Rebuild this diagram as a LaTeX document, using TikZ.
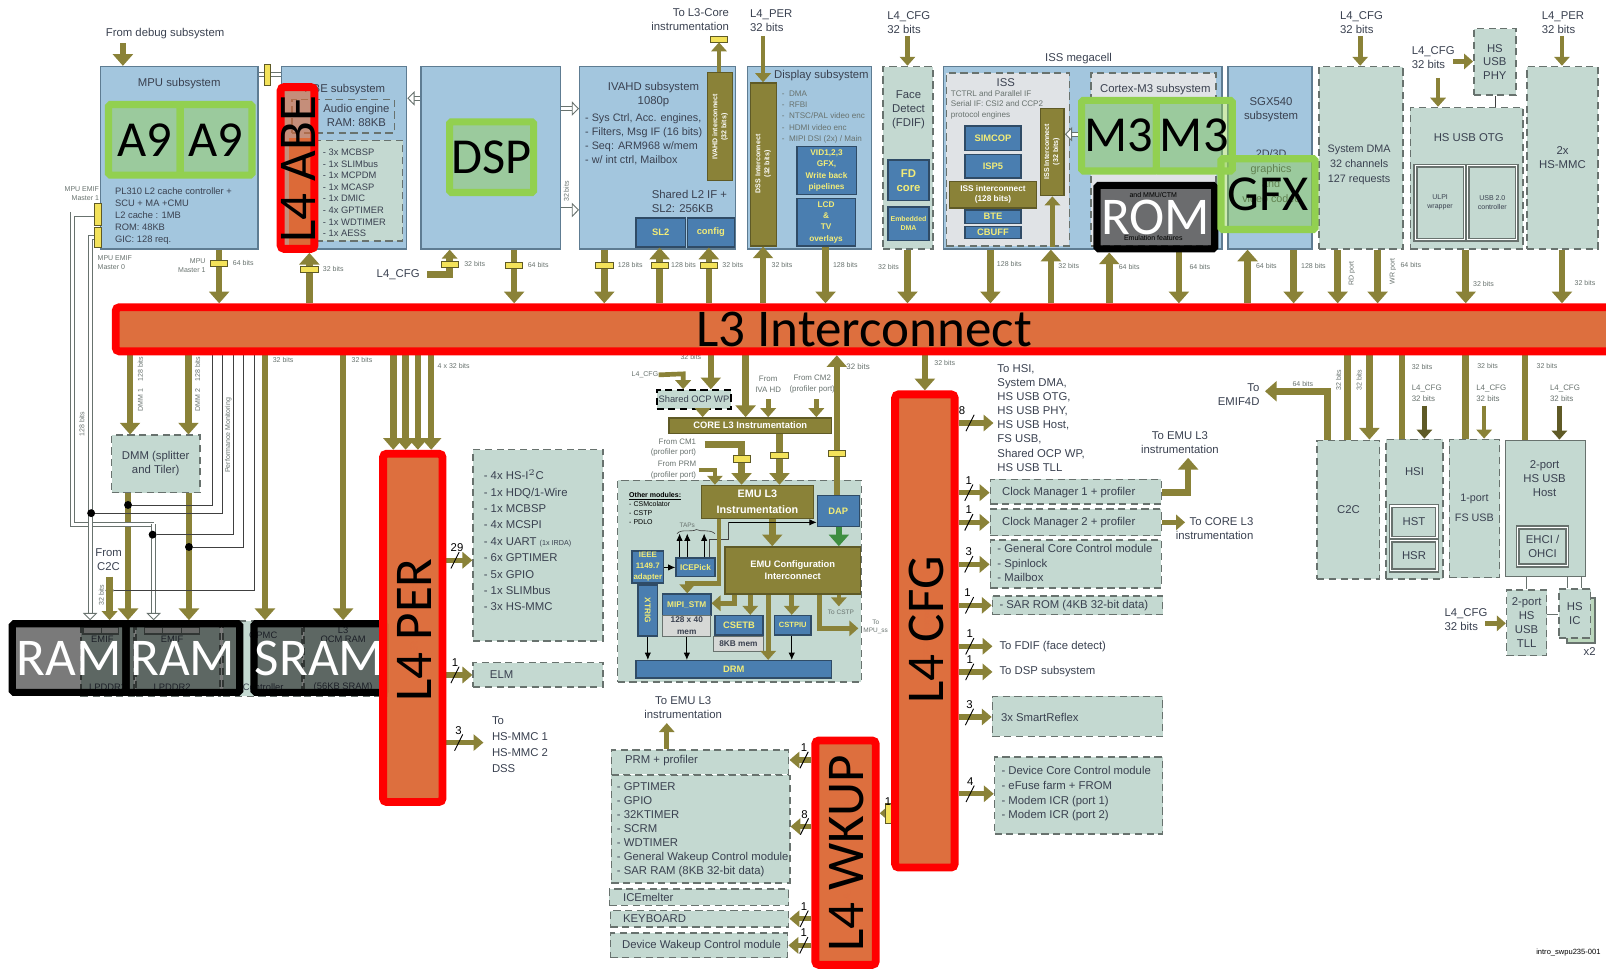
\documentclass[tikz,border=0pt]{standalone}
\usepackage{fontspec}
\setmainfont{Liberation Sans}
\newfontfamily\bigfont{Carlito}
\usetikzlibrary{arrows.meta,calc}
\pgfdeclarelayer{front}
\pgfsetlayers{main,front}
\definecolor{subblue}{HTML}{A3C6DE}
\definecolor{subedge}{HTML}{5E7C92}
\definecolor{mintfill}{HTML}{C4D9D1}
\definecolor{dashgray}{HTML}{68726E}
\definecolor{ipblue}{HTML}{4A7EB0}
\definecolor{ipedge}{HTML}{2F4B66}
\definecolor{ipyellow}{HTML}{F2EC78}
\definecolor{busolive}{HTML}{8A8238}
\definecolor{oliveedge}{HTML}{5F5A26}
\definecolor{markyellow}{HTML}{F3E25A}
\definecolor{textdark}{HTML}{3A4150}
\definecolor{barorange}{HTML}{DC6A38}
\definecolor{cpugreen}{HTML}{92D050}
\definecolor{linkgreen}{HTML}{3E8E41}
\definecolor{memgray}{HTML}{D6D8D6}
\definecolor{issgray}{HTML}{E0E3E6}
\newcommand{\lblfont}{\fontsize{6.3}{7.7}\selectfont}
\newcommand{\smlfont}{\fontsize{5.2}{6.6}\selectfont}
\newcommand{\tnyfont}{\fontsize{3.9}{5}\selectfont}
\tikzset{
  >=Latex,
  subsys/.style={rectangle, draw=subedge, line width=0.8pt, fill=subblue, inner sep=0pt, align=center, font=\lblfont, text=textdark},
  dashbox/.style={rectangle, draw=dashgray, dash pattern=on 4pt off 2.5pt, line width=0.9pt, fill=mintfill, inner sep=0pt, align=center, font=\lblfont, text=textdark},
  solidbox/.style={dashbox, solid},
  issbox/.style={dashbox, fill=issgray},
  ipblock/.style={rectangle, draw=ipedge, line width=0.8pt, fill=ipblue, inner sep=0pt, align=center, font=\smlfont\bfseries, text=ipyellow},
  oliveblock/.style={rectangle, draw=oliveedge, line width=0.8pt, fill=busolive, inner sep=0pt, align=center, font=\smlfont\bfseries, text=white},
  graybox/.style={rectangle, draw=dashgray, line width=0.6pt, fill=memgray, inner sep=0pt, align=center, font=\smlfont, text=textdark},
  lbl/.style={font=\lblfont, text=textdark, inner sep=0pt, align=left},
  sml/.style={font=\smlfont, text=textdark, inner sep=0pt, align=left},
  bits/.style={font=\tnyfont, text=dashgray, inner sep=0pt, align=left},
  count/.style={font=\lblfont, text=black, inner sep=0pt},
  faint/.style={font=\smlfont\bfseries, text=white, inner sep=0pt, rotate=90},
  bus/.style={line width=3.6pt, draw=busolive, -{Triangle[width=11pt,length=6.5pt]}},
  busline/.style={line width=3.6pt, draw=busolive},
  thinbus/.style={line width=2.6pt, draw=busolive, -{Triangle[width=8.5pt,length=5pt]}},
  tagbus/.style={line width=3pt, draw=busolive, -{Triangle[width=9pt,length=5.5pt]}},
  greenbus/.style={line width=3.6pt, draw=linkgreen, -{Triangle[width=11pt,length=6.5pt]}},
  pipe/.style={line width=0.5pt, draw=dashgray, double=white, double distance=1.8pt},
  pipearrow/.style={pipe, -{Triangle[width=8pt,length=4pt,fill=white]}},
  wire/.style={line width=0.35pt, draw=black!75},
  wirearrow/.style={line width=0.45pt, draw=black, -{Latex[length=4pt,width=3.5pt]}},
  tick/.style={line width=0.5pt, draw=black},
  dotmark/.style={circle, fill=black, inner sep=0pt, minimum size=4.4pt},
  ymark/.style={rectangle, draw=oliveedge, line width=0.4pt, fill=markyellow, inner sep=0pt, minimum width=9.6pt, minimum height=3.4pt},
  vmark/.style={ymark, minimum width=3.6pt, minimum height=10pt},
  bighl/.style={rectangle, rounded corners=2pt, draw=red, line width=4.4pt, fill=barorange, fill opacity=0.97, text opacity=1, inner sep=0pt, font=\bigfont\fontsize{29.5}{30}\selectfont, text=black},
  cpu/.style={rectangle, rounded corners=1pt, draw=cpugreen, line width=4pt, fill=cpugreen, fill opacity=0.45, text opacity=1, draw opacity=1, inner sep=0pt, font=\bigfont\fontsize{28}{30}\selectfont, text=black},
  memhl/.style={rectangle, rounded corners=1pt, draw=black, line width=4pt, fill=black, fill opacity=0.52, draw opacity=1, text opacity=1, inner sep=0pt, font=\bigfont\fontsize{29.5}{30}\selectfont, text=white},
  biglabel/.style={inner sep=0pt, font=\bigfont\fontsize{29.5}{30}\selectfont, text=black}
}
\newcommand{\blk}[5]{\path let \p1=(#3), \p2=(#4) in node[#1, minimum width=\x2-\x1, minimum height=\y1-\y2] (#2) at ($(#3)!0.5!(#4)$) {#5};}
\newcommand{\vbus}[4]{\draw[#1] (#3 -| #2,0) -- (#4 -| #2,0);}
\newcommand{\hbus}[4]{\draw[#1] (#3 |- 0,#2) -- (#4 |- 0,#2);}
\newcommand{\wbus}[5]{
  \draw[tagbus] (#2) -- (#3) coordinate[pos=0.33] (#1);
  \draw[tick] ($(#1)+(-4,8)$) -- ($(#1)+(4,-8)$);
  \node[count] (#1n) at ($(#1)+(#5,-12)$) {#4};
}

\begin{document}
\begin{tikzpicture}[x=0.02cm, y=-0.02cm]
\useasboundingbox (0,0) rectangle (1568,946);

\begin{pgfonlayer}{front}
\blk{memhl}{ram1}{12,609}{123,676}{RAM}
\blk{memhl}{ram2}{123,609}{234,676}{RAM}
\blk{memhl}{sram}{248,609}{376,676}{SRAM}
\blk{memhl}{rom}{1071,181}{1186,243}{ROM}
\blk{cpu}{a9a}{106,102}{176,171}{A9}
\blk{cpu}{a9b}{176,102}{246,171}{A9}
\blk{cpu}{dsphl}{439,119}{521,188}{DSP}
\blk{cpu}{m3a}{1056,98}{1129,167}{M3}
\blk{cpu}{m3b}{1129,98}{1203,167}{M3}
\blk{cpu}{gfx}{1192,155}{1284,224}{GFX}
\blk{bighl, fill opacity=0.6}{l4abe}{274,85}{307,243}{}
\node[biglabel, rotate=90] (l4abetxt) at (291,165) {L4 ABE};
\blk{bighl}{l3}{113,300}{1574,343}{L3 Interconnect}
\blk{bighl}{l4per}{374,443}{432,783}{}
\node[biglabel, rotate=90] (l4pertxt) at (405,615) {L4 PER};
\blk{bighl}{l4cfg}{874,385}{932,847}{}
\node[biglabel, rotate=90] (l4cfgtxt) at (905,615) {L4 CFG};
\blk{bighl}{l4wkup}{796,723}{855,942}{}
\node[biglabel, rotate=90] (l4wkuptxt) at (827,833) {L4 WKUP};
\end{pgfonlayer}

\node[lbl, anchor=west] (debugtxt) at (103,33) {From debug subsystem};
\blk{subsys}{mpu}{98,65}{252,243}{}
\coordinate (debugin) at (120,42);
\draw[bus] (debugin) -- (debugin |- mpu.north);
\node[lbl] (mputitle) at (175,82) {MPU subsystem};
\node[sml, anchor=north west] (mpulist) at (112,183) {PL310 L2 cache controller +\\SCU + MA +CMU\\L2 cache : 1MB\\ROM: 48KB\\GIC: 128 req.};
\node[vmark, minimum height=12pt] (tab1) at (95.5,209) {};
\node[vmark, minimum height=11pt] (tab2) at (95.5,232) {};
\node[bits, anchor=east, align=right] (emif1txt) at (97,189) {MPU EMIF\\Master 1};
\node[bits, anchor=west] (emif0txt) at (95,256) {MPU EMIF\\Master 0};
\node[bits, anchor=east, align=right] (mas1txt) at (201,259) {MPU\\Master 1};

\blk{subsys}{abe}{275,65}{397,243}{}
\node[lbl] (abetitle) at (337,87) {ABE subsystem};
\blk{issbox, fill=subblue}{audio}{285,97}{385,130}{}
\node[lbl, align=center] (audiotxt) at (348,113) {Audio engine\\RAM: 88KB};
\blk{dashbox}{abeper}{285,137}{393,235}{}
\blk{rectangle, fill=barorange, inner sep=0pt}{abebar}{282,135}{305,239}{}
\node[sml, anchor=north west, font=\fontsize{5.2}{6.45}\selectfont] (abelist) at (315,145) {- 3x MCBSP\\- 1x SLIMbus\\- 1x MCPDM\\- 1x MCASP\\- 1x DMIC\\- 4x GPTIMER\\- 1x WDTIMER\\- 1x AESS};
\blk{subsys}{dsp}{411,65}{547,243}{}
\blk{subsys}{ivahd}{566,65}{718,243}{}
\node[lbl, align=center] (ivatitle) at (638,92) {IVAHD subsystem\\1080p};
\node[lbl, anchor=north west, font=\fontsize{6}{7.7}\selectfont\relax] (ivalist) at (571,111) {- Sys Ctrl, Acc. engines,\\- Filters, Msg IF (16 bits)\\- Seq: ARM968 w/mem\\- w/ int ctrl, Mailbox};
\node[lbl, anchor=west] (sl2txt) at (636,197) {Shared L2 IF +\\SL2: 256KB};
\blk{oliveblock}{ivaic}{691,71}{715,176}{}
\node[faint, font=\tnyfont\bfseries, align=center] (ivaictxt) at (703,124) {IVAHD interconnect\\(32 bits)};
\blk{ipblock}{sl2}{621,213}{669,241}{SL2}
\blk{ipblock}{config}{671,213}{717,241}{config}
\node[ymark] (coretap) at (702,38) {};
\draw[thinbus] (ivaic.north -| coretap) -- (coretap.south);
\node[lbl, anchor=east, align=right] (coretxt) at (712,19) {To L3-Core\\instrumentation};

\blk{subsys}{display}{730,65}{851,243}{}
\node[lbl] (disptitle) at (802,74) {Display subsystem};
\blk{oliveblock}{dssic}{733,81}{758,240}{}
\node[faint, font=\tnyfont\bfseries, align=center] (dsstxt) at (745,160) {DSS Interconnect\\(32 bits)};
\node[lbl, anchor=west] (dsspertxt) at (732,20) {L4\_PER\\32 bits};
\coordinate (dssin) at (745,35);
\draw[thinbus] (dssin) -- (dssin |- dssic.north);
\node[bits, anchor=north west, font=\fontsize{4.5}{6.3}\selectfont] (displist) at (763,88) {-\ \ DMA\\-\ \ RFBI\\-\ \ NTSC/PAL video enc\\-\ \ HDMI video enc\\-\ \ MIPI DSI (2x) / Main};
\blk{ipblock, font=\fontsize{4.6}{6.3}\selectfont\bfseries}{vid}{778,143}{836,190}{VID1,2,3\\GFX,\\Write back\\pipelines}
\blk{ipblock, font=\fontsize{4.6}{6.3}\selectfont\bfseries}{lcd}{778,194}{835,240}{LCD\\\&\\TV\\overlays}

\blk{dashbox}{face}{862,65}{911,243}{}
\node[lbl, align=center] (facetxt) at (887,107) {Face\\Detect\\(FDIF)};
\blk{ipblock, font=\lblfont\bfseries}{fdcore}{867,156}{907,196}{FD\\core}
\blk{ipblock, font=\tnyfont\bfseries}{embdma}{867,202}{907,235}{Embedded\\DMA}
\node[lbl, anchor=west] (facecfg) at (866,22) {L4\_CFG\\32 bits};
\coordinate (facein) at (886,35);
\draw[thinbus] (facein) -- (facein |- face.north);

\node[lbl] (isstitle) at (1053,57) {ISS megacell};
\blk{subsys}{issmega}{921,65}{1193,243}{}
\blk{issbox}{iss}{924,71}{1044,240}{}
\node[lbl] (isstxt) at (982,81) {ISS};
\node[bits, anchor=north west, font=\fontsize{4.5}{5.8}\selectfont] (issnote) at (928,88) {TCTRL and Parallel IF\\Serial IF: CSI2 and CCP2\\protocol engines};
\blk{ipblock}{simcop}{942,123}{997,147}{SIMCOP}
\blk{ipblock}{isp}{942,151}{997,174}{ISP5}
\blk{oliveblock, font=\fontsize{4.6}{5.8}\selectfont\bfseries}{issbus}{927,177}{1012,203}{ISS interconnect\\(128 bits)}
\blk{ipblock}{bte}{942,205}{997,218}{BTE}
\blk{ipblock}{cbuff}{942,221}{997,233}{CBUFF}
\blk{oliveblock}{issic}{1016,106}{1039,191}{}
\node[faint, font=\tnyfont\bfseries, align=center] (issictxt) at (1027,148) {ISS Interconnect\\(32 bits)};
\draw[thinbus] (iss.south -| issic) -- (issic.south);
\blk{issbox}{cm3}{1065,71}{1187,240}{}
\node[lbl] (cm3txt) at (1128,87) {Cortex-M3 subsystem};
\blk{rectangle, fill=subblue, inner sep=0pt}{m3base}{1058,100}{1190,165}{}
\node[bits, text=black] (mmutxt) at (1126,190) {and MMU/CTM};
\node[bits, text=black] (emutxt) at (1126,232) {Emulation features};
\hbus{pipearrow}{131}{m3a.west}{issic.east}

\blk{subsys}{sgx}{1199,65}{1281,243}{}
\node[lbl, align=center] (sgxtxt) at (1241,107) {SGX540\\subsystem};
\node[lbl, align=center, font=\fontsize{6}{8.5}\selectfont\relax] (sgxtxtb) at (1241,172) {2D/3D\\graphics\\and\\video codec};
\blk{dashbox}{sdma}{1288,65}{1370,243}{}
\node[lbl, align=center, font=\fontsize{6}{8.2}\selectfont\relax] (sdmatxt) at (1327,161) {System DMA\\32 channels\\127 requests};
\node[lbl, anchor=west] (sdmacfg) at (1308,22) {L4\_CFG\\32 bits};
\coordinate (sdmain) at (1328,35);
\draw[thinbus] (sdmain) -- (sdmain |- sdma.north);
\blk{dashbox}{otg}{1377,105}{1487,243}{}
\node[lbl] (otgtxt) at (1434,134) {HS USB OTG};
\blk{solidbox, double, font=\tnyfont}{ulpi}{1382,162}{1430,234}{ULPI\\wrapper}
\blk{solidbox, double, font=\tnyfont}{usbctl}{1433,162}{1481,234}{USB 2.0\\controller}
\blk{dashbox}{phy}{1439,28}{1480,93}{HS\\USB\\PHY}
\draw[wire] (phy.south) -- (otg.north -| phy);
\node[lbl, anchor=west] (otgcfg) at (1378,56) {L4\_CFG\\32 bits};
\coordinate (otgin) at (1404,76);
\draw[thinbus] (otgin) -- (otgin |- otg.north);
\coordinate (phyin) at (1419,60);
\draw[thinbus] (phyin) -- (phyin -| phy.west);
\blk{dashbox}{mmc}{1491,65}{1560,243}{2x\\HS-MMC}
\node[lbl, anchor=west] (mmcper) at (1505,22) {L4\_PER\\32 bits};
\coordinate (mmcin) at (1525,35);
\draw[thinbus] (mmcin) -- (mmcin |- mmc.north);

\hbus{pipe}{73}{mpu.east}{abe.west}
\node[vmark, minimum height=12pt] (mpuabe) at (261,73) {};
\hbus{pipearrow}{96}{dsp.west}{abe.east}
\hbus{pipearrow}{106}{dsp.east}{ivahd.west}
\hbus{pipearrow}{205}{dsp.east}{ivahd.west}
\node[bits, rotate=90] (dspbits) at (553,187) {32 bits};

\vbus{bus}{214}{mpu.south}{l3.north}
\node[ymark] (mk1) at (214,257) {};
\node[bits, anchor=west] (b1) at (227,257) {64 bits};
\vbus{bus}{302}{l3.north}{l4abe.south}
\node[ymark] (mk2) at (302,263) {};
\node[bits, anchor=west] (b2) at (315,263) {32 bits};
\coordinate (dspcfg) at (439,268);
\node[lbl, anchor=east] (dspcfgtxt) at (410,268) {L4\_CFG};
\draw[thinbus, line width=3.6pt] (417,268) -- (dspcfg) -- (dspcfg |- dsp.south);
\node[ymark] (mk3) at (439,258) {};
\node[bits, anchor=west] (b3) at (453,258) {32 bits};
\vbus{bus}{502}{dsp.south}{l3.north}
\node[ymark] (mk4) at (502,259) {};
\node[bits, anchor=west] (b4) at (515,259) {64 bits};
\vbus{bus}{590}{ivahd.south}{l3.north}
\node[ymark] (mk5) at (590,259) {};
\node[bits, anchor=west] (b5) at (603,259) {128 bits};
\vbus{bus}{644}{l3.north}{sl2.south}
\node[ymark] (mk6) at (644,259) {};
\node[bits, anchor=west] (b6) at (655,259) {128 bits};
\vbus{bus}{692}{l3.north}{config.south}
\node[ymark] (mk7) at (692,259) {};
\node[bits, anchor=west] (b7) at (705,259) {32 bits};
\vbus{bus}{745}{l3.north}{dssic.south}
\node[bits, anchor=west] (b8) at (753,259) {32 bits};
\vbus{bus}{806}{lcd.south}{l3.north}
\node[bits, anchor=west] (b9) at (813,259) {128 bits};
\vbus{bus}{886}{face.south}{l3.north}
\node[bits, anchor=west] (b10) at (857,261) {32 bits};
\vbus{bus}{967}{issmega.south}{l3.north}
\node[bits, anchor=west] (b11) at (973,258) {128 bits};
\vbus{bus}{1026}{l3.north}{issmega.south}
\node[bits, anchor=west] (b12) at (1033,260) {32 bits};
\vbus{bus}{1083}{l3.north}{rom.south}
\node[bits, anchor=west] (b13) at (1092,261) {64 bits};
\vbus{bus}{1151}{rom.south}{l3.north}
\node[bits, anchor=west] (b14) at (1161,261) {64 bits};
\vbus{bus}{1218}{l3.north}{sgx.south}
\node[bits, anchor=west] (b15) at (1226,260) {64 bits};
\vbus{bus}{1263}{sgx.south}{l3.north}
\node[bits, anchor=west] (b16) at (1270,260) {128 bits};
\vbus{bus}{1306}{sdma.south}{l3.north}
\node[bits, rotate=90] (rdtxt) at (1320,267) {RD port};
\vbus{bus}{1345}{sdma.south}{l3.north}
\node[bits, rotate=90] (wrtxt) at (1360,265) {WR port};
\node[bits, anchor=west] (b17) at (1367,259) {64 bits};
\vbus{bus}{1431}{otg.south}{l3.north}
\node[bits, anchor=west] (b18) at (1438,277) {32 bits};
\vbus{bus}{1525}{mmc.south}{l3.north}
\node[bits, anchor=west] (b19) at (1537,276) {32 bits};

\blk{dashbox}{emif1}{79,606}{131,680}{}
\blk{dashbox}{emif2}{133,606}{215,680}{}
\blk{dashbox}{gpmc}{218,606}{295,680}{}
\blk{dashbox}{ocm}{297,606}{378,680}{}
\blk{graybox}{tab1a}{81,613}{99,619}{}
\blk{graybox}{tab1b}{99,613}{116,619}{}
\blk{graybox}{tab2a}{141,613}{159,619}{}
\blk{graybox}{tab2b}{159,613}{177,619}{}
\blk{graybox}{tab2c}{177,613}{195,619}{}
\node[sml] (emif1a) at (100,624) {EMIF};
\node[sml] (emif1b) at (105,671) {LPDDR2};
\node[sml] (emif2a) at (168,624) {EMIF};
\node[sml] (emif2b) at (168,671) {LPDDR2};
\node[sml] (gpmca) at (257,620) {GPMC};
\node[sml] (gpmcb) at (257,671) {Controller};
\node[sml, align=center, font=\fontsize{5.2}{5.2}\selectfont] (ocma) at (335,620) {L3\\OCM RAM};
\node[sml] (ocmb) at (335,671) {(56KB SRAM)};

\blk{dashbox}{dmm}{109,425}{195,481}{DMM (splitter\\and Tiler)}
\vbus{bus}{127}{l3.south}{dmm.north}
\vbus{bus}{184}{l3.south}{dmm.north}
\node[bits, rotate=90] (dmm1b) at (137,375) {DMM 1\ \ \ \ 128 bits};
\node[bits, rotate=90] (dmm2b) at (193,375) {DMM 2\ \ \ \ 128 bits};
\vbus{bus}{125}{dmm.south}{ram1.north}
\vbus{bus}{184.5}{dmm.south}{ram2.north}
\vbus{bus}{258.7}{l3.south}{sram.north}
\vbus{bus}{335}{l3.south}{sram.north}
\node[bits, anchor=west] (b20) at (266,351) {32 bits};
\node[bits, anchor=west] (b21) at (343,351) {32 bits};
\vbus{bus}{384}{l3.south}{l4per.north}
\vbus{bus}{396}{l3.south}{l4per.north}
\vbus{bus}{408}{l3.south}{l4per.north}
\vbus{bus}{421}{l3.south}{l4per.north}
\node[bits, anchor=west] (b22) at (427,357) {4 x 32 bits};

\coordinate (pipeturn) at (71,512);
\coordinate (pipedrop) at (150,512);
\coordinate (pipein) at (88,232);
\draw[pipe] (tab1.west) -| (pipeturn) -- (pipedrop);
\draw[pipearrow] (pipedrop) -- (pipedrop |- ram2.north);
\draw[pipearrow] (tab2.west) -- (pipein) -- (pipein |- ram1.north);
\node[bits, rotate=90] (pipebits) at (80,414) {128 bits};
\node[dotmark] (dot1) at (125,493) {};
\node[dotmark] (dot2) at (89,501) {};
\node[dotmark] (dot3) at (149,522) {};
\node[dotmark] (dot4) at (184.5,534) {};
\node[dotmark] (dot5) at (107,576.5) {};
\draw[wire] (l3.south -| 207,0) |- (dot1);
\draw[wire] (l3.south -| 217,0) |- (dot2);
\draw[wire] (l3.south -| 228,0) |- (dot3);
\draw[wire] (l3.south -| 238,0) |- (dot4);
\draw[wire] (l3.south -| 248,0) |- (dot5);
\node[bits, rotate=90] (perfmon) at (223,425) {Performance Monitoring};
\node[lbl, align=center] (fromc2c) at (106,546) {From\\C2C};
\coordinate (c2cin) at (107,563);
\draw[thinbus, line width=3.6pt] (c2cin) -- (c2cin |- ram1.north);
\node[bits, rotate=90] (c2cbits) at (99,581) {32 bits};

\node[faint] (l4perfaint) at (405,615) {L4\_PER Interconnect};
\blk{dashbox}{perlist}{462,439}{589,626}{}
\node[lbl, anchor=north west, font=\fontsize{6.3}{9.1}\selectfont\relax] (perlisttxt) at (472,458) {- 4x HS-I$^2$C\\- 1x HDQ/1-Wire\\- 1x MCBSP\\- 4x MCSPI\\- 4x UART {\fontsize{4}{5}\selectfont(1x IRDA)}\\- 6x GPTIMER\\- 5x GPIO\\- 1x SLIMbus\\- 3x HS-MMC};
\wbus{tag29}{l4per.east |- 0,547}{perlist.west |- 0,547}{29}{2}
\blk{dashbox}{elm}{462,647}{589,671}{}
\node[lbl, anchor=west] (elmtxt) at (478,659) {ELM};
\wbus{tagelm}{l4per.east |- 0,659}{elm.west |- 0,659}{1}{0}
\coordinate (mmcto) at (472,725);
\wbus{tagmmc}{l4per.east |- 0,725}{mmcto}{3}{0}
\node[lbl, anchor=west, font=\fontsize{6.3}{8.8}\selectfont\relax] (mmctotxt) at (480,727) {To\\HS-MMC 1\\HS-MMC 2\\DSS};

\blk{dashbox}{emuarea}{603,469}{841,666}{}
\blk{dashbox, draw=black, line width=1.1pt, font=\fontsize{5.2}{6}\selectfont}{ocpwp}{641,381}{714,399}{Shared OCP WP}
\blk{oliveblock}{corel3}{653,408}{812,423}{CORE L3 Instrumentation}
\blk{oliveblock, font=\fontsize{6}{8.5}\selectfont\bfseries}{emul3}{685,474}{794,506}{EMU L3\\Instrumentation}
\blk{ipblock}{dap}{798,484}{839,514}{DAP}
\blk{oliveblock}{emucfg}{708,534}{840,580}{EMU Configuration\\Interconnect}
\blk{ipblock, font=\fontsize{4.6}{6}\selectfont\bfseries}{icepick}{660,545}{698,563}{ICEPick}
\blk{ipblock, font=\fontsize{4.4}{6.2}\selectfont\bfseries}{ieee}{617,538}{648,569}{IEEE\\1149.7\\adapter}
\blk{ipblock, font=\fontsize{4.6}{6}\selectfont\bfseries}{xtrig}{623,571}{642,621}{\rotatebox{-90}{XTRIG}}
\blk{ipblock, font=\fontsize{4.6}{6}\selectfont\bfseries}{stm}{647,580}{694,601}{MIPI\_STM}
\blk{graybox, font=\fontsize{4.6}{7}\selectfont\bfseries}{stmmem}{647,601}{694,621}{128 x 40\\mem}
\blk{graybox, font=\fontsize{4.6}{6}\selectfont\bfseries}{etbmem}{697,621}{745,636}{8KB mem}
\blk{ipblock}{csetb}{698,601}{745,620}{CSETB}
\blk{ipblock, font=\fontsize{4.2}{6}\selectfont\bfseries}{cstpiu}{756,601}{792,620}{CSTPIU}
\blk{ipblock}{drm}{621,645}{812,662}{DRM}
\node[bits, anchor=north west, text=black] (othermods) at (614,480) {\underline{\textbf{Other modules:}}\\- CSMcolator\\- CSTP\\- PDLO};
\vbus{bus}{694}{l3.south}{ocpwp.north}
\vbus{bus}{728}{l3.south}{corel3.north}
\node[bits, anchor=east] (b23) at (685,349) {32 bits};
\coordinate (ocpin) at (667,365);
\node[bits, anchor=east] (ocpcfg) at (643,366) {L4\_CFG};
\draw[thinbus] (ocpcfg.east) -- (ocpin) -- (ocpin |- ocpwp.north);
\vbus{thinbus}{686}{ocpwp.south}{corel3.north}
\node[bits, font=\fontsize{4.4}{5.8}\selectfont, align=center] (fromiva) at (750,375) {From\\IVA HD};
\node[bits, font=\fontsize{4.4}{5.8}\selectfont, align=center] (fromcm2) at (793,375) {From CM2\\(profiler port)};
\coordinate (ivain) at (750,390);
\coordinate (cm2in) at (797,390);
\draw[thinbus] (ivain) -- (ivain |- corel3.north);
\draw[thinbus] (cm2in) -- (cm2in |- corel3.north);
\vbus{bus}{817}{dap.north}{l3.south}
\node[ymark] (mk8) at (817,443) {};
\node[bits, anchor=west, font=\fontsize{4.4}{5.8}\selectfont] (b24) at (826,358) {32 bits};
\vbus{bus}{761}{corel3.south}{emul3.north}
\node[ymark] (mk9) at (761,445) {};
\node[bits, anchor=east, font=\fontsize{4.4}{5.8}\selectfont, align=right] (fromcm1) at (680,437) {From CM1\\(profiler port)};
\node[bits, anchor=east, font=\fontsize{4.4}{5.8}\selectfont, align=right] (fromprm) at (680,459) {From PRM\\(profiler port)};
\coordinate (cm1in) at (688,434);
\coordinate (cm1turn) at (724,434);
\draw[bus] (cm1in) -- (cm1turn) -- (cm1turn |- emul3.north);
\node[ymark] (mk10) at (724,448) {};
\coordinate (prmin) at (682,459);
\coordinate (prmturn) at (698,459);
\draw[thinbus] (prmin) -- (prmturn) -- (prmturn |- emul3.north);
\vbus{bus}{754}{emul3.south}{emucfg.north}
\vbus{greenbus}{819}{dap.south}{emucfg.north}
\coordinate (tapturn) at (711,510);
\coordinate (tapdown) at (693,527);
\draw[wirearrow] (tapturn) -- (dap.west |- tapturn);
\draw[wire] (tapturn) |- (tapdown) -- (icepick.north -| tapdown);
\node[bits, font=\fontsize{3.6}{4}\selectfont] (tapstxt) at (671,513) {TAPs};
\coordinate (bracel) at (661,521);
\coordinate (bracer) at (698,521);
\draw[wire] (bracel) .. controls (665,516) and (675,520) .. (680,517) .. controls (685,520) and (692,516) .. (bracer);
\vbus{wirearrow}{663.5}{icepick.north}{bracel}
\vbus{wirearrow}{671}{icepick.north}{bracel}
\vbus{wirearrow}{687.5}{icepick.north}{bracel}
\hbus{wirearrow}{554}{ieee.east}{icepick.west}
\coordinate (stmdrop) at (702,569.5);
\coordinate (stmhop) at (671,569.5);
\draw[thinbus] (stmdrop |- emul3.south) -- (stmdrop) -- (stmhop) -- (stmhop |- stm.north);
\coordinate (stmside) at (717,589);
\draw[thinbus] (stmside |- emucfg.south) -- (stmside) -- (stmside -| stm.east);
\vbus{thinbus}{732.5}{emucfg.south}{csetb.north}
\vbus{thinbus}{773}{emucfg.south}{cstpiu.north}
\vbus{thinbus}{750}{emucfg.south}{drm.north}
\coordinate (cstpto) at (819,592);
\draw[thinbus] (cstpto |- emucfg.south) -- (cstpto);
\node[bits, font=\fontsize{3.6}{4}\selectfont] (cstptxt) at (821,598) {To CSTP};
\coordinate (mputurn) at (800,613.5);
\coordinate (mputo) at (838,613.5);
\draw[thinbus] (mputurn |- emucfg.south) -- (mputurn) -- (mputo);
\node[bits, font=\fontsize{3.6}{4}\selectfont, align=center] (mputxt) at (855,612) {To\\MPU\_ss};
\vbus{wirearrow}{632.5}{xtrig.south}{drm.north}
\vbus{wirearrow}{670.6}{stmmem.south}{drm.north}
\vbus{wirearrow}{773}{cstpiu.south}{drm.north}

\vbus{bus}{903}{l3.south}{l4cfg.north}
\node[bits, anchor=west] (b25) at (912,354) {32 bits};
\node[faint] (l4cfgfaint) at (905,615) {L4\_CFG Interconnect};
\coordinate (hsito) at (970,413);
\wbus{taghsi}{l4cfg.east |- 0,413}{hsito}{8}{-8}
\node[lbl, anchor=west, font=\fontsize{6.3}{7.85}\selectfont\relax] (hsitxt) at (973.5,408) {To HSI,\\System DMA,\\HS USB OTG,\\HS USB PHY,\\HS USB Host,\\FS USB,\\Shared OCP WP,\\HS USB TLL};
\blk{dashbox}{clk1}{967,468}{1134,492}{}
\node[lbl, anchor=west] (clk1txt) at (978,481) {Clock Manager 1 + profiler};
\blk{dashbox}{clk2}{967,497}{1134,523}{}
\node[lbl, anchor=west] (clk2txt) at (978,510) {Clock Manager 2 + profiler};
\blk{dashbox}{gencore}{967,527}{1134,574}{}
\node[lbl, anchor=west, font=\fontsize{6.3}{8}\selectfont\relax] (gencoretxt) at (973.5,550) {- General Core Control module\\- Spinlock\\- Mailbox};
\blk{dashbox}{sarrom}{969,582}{1135,600}{}
\node[lbl, anchor=west] (sarromtxt) at (975.5,591) {- SAR ROM (4KB 32-bit data)};
\blk{dashbox}{smartr}{969,680}{1135,719}{}
\node[lbl, anchor=west] (smartrtxt) at (977,700) {3x SmartReflex};
\blk{dashbox}{devcore}{971,739}{1135,814}{}
\node[lbl, anchor=west, font=\fontsize{6.3}{8.1}\selectfont\relax] (devcoretxt) at (977.5,775) {- Device Core Control module\\- eFuse farm + FROM\\- Modem ICR (port 1)\\- Modem ICR (port 2)};
\wbus{tagclk1}{l4cfg.east |- 0,481}{clk1.west |- 0,481}{1}{0}
\wbus{tagclk2}{l4cfg.east |- 0,510}{clk2.west |- 0,510}{1}{0}
\wbus{taggen}{l4cfg.east |- 0,551}{gencore.west |- 0,551}{3}{0}
\wbus{tagsar}{l4cfg.east |- 0,591}{sarrom.west |- 0,591}{1}{-2}
\coordinate (fdifto) at (969,631);
\coordinate (dspto) at (969,656);
\wbus{tagfdif}{l4cfg.east |- 0,631}{fdifto}{1}{0}
\wbus{tagdsp}{l4cfg.east |- 0,656}{dspto}{1}{0}
\node[lbl, anchor=west] (fdiftxt) at (975.5,631) {To FDIF (face detect)};
\node[lbl, anchor=west] (dsptxt) at (975.5,656) {To DSP subsystem};
\wbus{tagsmart}{l4cfg.east |- 0,700}{smartr.west |- 0,700}{3}{0}
\wbus{tagdev}{l4cfg.east |- 0,775}{devcore.west |- 0,775}{4}{0}
\coordinate (clkturn) at (1160,481);
\coordinate (clkup) at (1160,447);
\draw[bus] (clk1.east |- clkturn) -- (clkturn) -- (clkup);
\node[lbl, align=center] (clkuptxt) at (1152,432) {To EMU L3\\instrumentation};
\coordinate (clk2to) at (1157,510);
\draw[thinbus] (clk2.east |- clk2to) -- (clk2to);
\node[lbl, anchor=east, align=right] (clk2txtb) at (1224,516) {To CORE L3\\instrumentation};

\node[faint] (l4wkfaint) at (827,833) {L4\_WKUP Interconnect};
\blk{dashbox}{prm}{597,732}{770,756}{}
\node[lbl, anchor=west] (prmtxt) at (610,743) {PRM + profiler};
\blk{dashbox}{wklist}{597,757}{771,862}{}
\node[lbl, anchor=north west, font=\fontsize{6.3}{7.75}\selectfont\relax] (wklisttxt) at (602,764) {- GPTIMER\\- GPIO\\- 32KTIMER\\- SCRM\\- WDTIMER\\- General Wakeup Control module\\- SAR RAM (8KB 32-bit data)};
\blk{dashbox}{icemelter}{595,868}{770,884}{}
\node[lbl, anchor=west] (icetxt) at (608,876) {ICEmelter};
\blk{dashbox}{keyboard}{596,889}{770,905}{}
\node[lbl, anchor=west] (keytxt) at (608,897) {KEYBOARD};
\blk{dashbox}{devwk}{596,911}{769,935}{}
\node[lbl, anchor=west] (devwktxt) at (607,923) {Device Wakeup Control module};
\wbus{tagprm}{l4wkup.west |- 0,742}{prm.east |- 0,742}{1}{0}
\wbus{tagwk}{l4wkup.west |- 0,807}{wklist.east |- 0,807}{8}{0}
\wbus{tagkey}{l4wkup.west |- 0,897}{keyboard.east |- 0,897}{1}{0}
\wbus{tagdevw}{l4wkup.west |- 0,923}{devwk.east |- 0,923}{1}{0}
\coordinate (prmup) at (651,706);
\draw[thinbus] (prm.north -| prmup) -- (prmup);
\node[lbl, align=center] (prmuptxt) at (667,691) {To EMU L3\\instrumentation};
\draw[bus] (l4cfg.west |- 0,794) -- (l4wkup.east |- 0,794);
\node[vmark, minimum height=11pt] (cfgwk) at (868,794) {};
\node[count] (cfgwkn) at (867,783) {1};

\blk{dashbox}{c2c}{1286,430}{1347,565}{C2C}
\coordinate (emifturn) at (1296,382);
\coordinate (emifto) at (1235,382);
\draw[bus] (c2c.north -| emifturn) -- (emifturn) -- (emifto);
\node[lbl, anchor=east, align=right] (emiftxt) at (1230,385) {To\\EMIF4D};
\node[bits, anchor=center] (b26) at (1272,375) {64 bits};
\vbus{busline}{1315.5}{l3.south}{c2c.north}
\vbus{bus}{1337}{l3.south}{c2c.north}
\node[bits, rotate=90] (b27) at (1307,371) {32 bits};
\node[bits, rotate=90] (b28) at (1327,371) {32 bits};
\blk{dashbox}{hsi}{1353,429}{1409,565}{}
\node[lbl] (hsitxtb) at (1381,460) {HSI};
\blk{solidbox, double}{hst}{1358,494}{1403,525}{HST}
\blk{solidbox, double}{hsr}{1358,528}{1403,557}{HSR}
\vbus{busline}{1368.6}{l3.south}{hsi.north}
\node[bits, anchor=west] (b29) at (1378,358) {32 bits};
\node[bits, anchor=west, font=\fontsize{4.4}{5.8}\selectfont] (hsicfg) at (1378,384) {L4\_CFG\\32 bits};
\coordinate (hsiin) at (1390.7,396);
\draw[thinbus, draw=oliveedge] (hsiin) -- (hsiin |- hsi.north);
\blk{dashbox}{fsusb}{1415,429}{1464,564}{}
\node[lbl, align=center, font=\fontsize{6}{10.8}\selectfont\relax] (fstxt) at (1439.5,496) {1-port\\FS USB};
\vbus{busline}{1431}{l3.south}{fsusb.north}
\node[bits, anchor=west] (b30) at (1442,357) {32 bits};
\node[bits, anchor=west, font=\fontsize{4.4}{5.8}\selectfont] (fscfg) at (1441,384) {L4\_CFG\\32 bits};
\coordinate (fsin) at (1449,396);
\draw[thinbus] (fsin) -- (fsin |- fsusb.north);
\blk{solidbox}{host}{1470,430}{1548,563}{}
\node[lbl, align=center] (hosttxt) at (1508,467) {2-port\\HS USB\\Host};
\blk{solidbox, double}{ehci}{1482,515}{1530,552}{EHCI /\\OHCI}
\vbus{busline}{1489}{l3.south}{host.north}
\node[bits, anchor=west] (b31) at (1500,357) {32 bits};
\node[bits, anchor=west, font=\fontsize{4.4}{5.8}\selectfont] (hostcfg) at (1513,384) {L4\_CFG\\32 bits};
\coordinate (hostin) at (1522.5,396);
\draw[thinbus, draw=oliveedge] (hostin) -- (hostin |- host.north);
\blk{dashbox}{tll}{1471,576}{1510,640}{2-port\\HS\\USB\\TLL}
\blk{solidbox, fill=linkgreen!35}{icback}{1530,584}{1557,628}{}
\blk{dashbox}{hsic}{1522,575}{1553,623}{HS\\IC}
\draw[wire, draw=dashgray] (tll.north) -- (host.south -| tll);
\vbus{wire, draw=dashgray}{1530}{hsic.north}{host.south}
\vbus{wire, draw=dashgray}{1544}{hsic.north}{host.south}
\hbus{wire, draw=dashgray}{600}{tll.east}{hsic.west}
\node[lbl, anchor=west] (tllcfg) at (1410,605) {L4\_CFG\\32 bits};
\coordinate (tllin) at (1450,608.6);
\draw[thinbus] (tllin) -- (tll.west |- tllin);
\node[lbl] (x2txt) at (1552,636) {x2};
\node[bits, anchor=east, text=black, font=\fontsize{4.2}{5}\selectfont] (fignum) at (1563,930) {intro\_swpu235-001};
\end{tikzpicture}
\end{document}
